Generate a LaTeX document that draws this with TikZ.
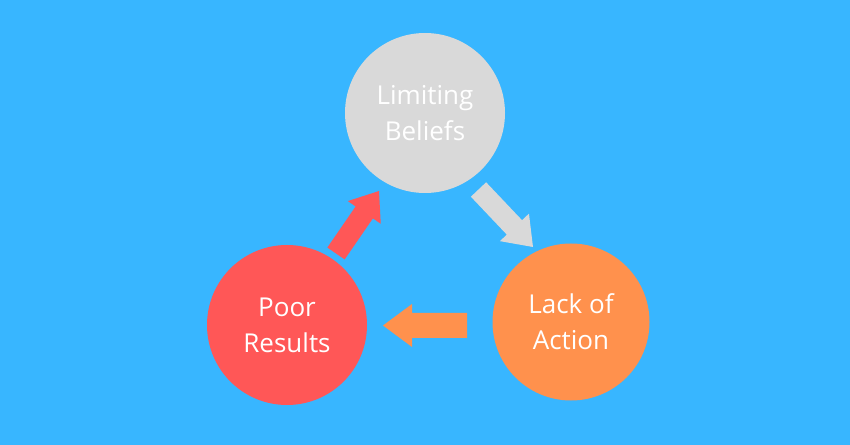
\documentclass[tikz,border=0pt]{standalone}
\usepackage{fontspec}
\setmainfont{Open Sans}
\usetikzlibrary{calc}
\definecolor{bgblue}{HTML}{38B6FF}
\definecolor{greyc}{HTML}{D9D9D9}
\definecolor{redc}{HTML}{FF5757}
\definecolor{orangec}{HTML}{FF914D}
\newcommand{\blockarr}[6]{% tail, tip, shaft half, head half, head length, colour
  \coordinate (hb#1) at ($(#2)!#5!(#1)$);
  \fill[#6] ($(#1)!#3!90:(#2)$) -- ($(hb#1)!#3!-90:(#1)$) -- ($(hb#1)!#4!-90:(#1)$) -- (#2)
    -- ($(hb#1)!#4!90:(#1)$) -- ($(hb#1)!#3!90:(#1)$) -- ($(#1)!#3!-90:(#2)$) -- cycle;}
\tikzset{
  circ/.style={circle, inner sep=0pt, minimum size=#1, text=white, align=center,
    font=\fontsize{26bp}{36bp}\selectfont},
}
\begin{document}
\begin{tikzpicture}[x=1bp, y=-1bp]
\fill[bgblue] (0,0) rectangle (850,445);
\useasboundingbox (0,0) rectangle (850,445);
\node[circ=160bp, fill=greyc] (lb) at (425,113) {Limiting\\Beliefs};
\node[circ=157bp, fill=orangec] (la) at (571,322) {Lack of\\Action};
\node[circ=160bp, fill=redc] (pr) at (287,325) {Poor\\Results};
% arrows
\coordinate (gt) at (478.5,189.5);
\coordinate (gp) at (533,247);
\coordinate (ot) at (467,325.5);
\coordinate (op) at (383,325.5);
\coordinate (rt) at (336,253.5);
\coordinate (rp) at (379,191);
\blockarr{gt}{gp}{10.5bp}{20bp}{27bp}{greyc}
\blockarr{ot}{op}{12.5bp}{21.5bp}{29bp}{orangec}
\blockarr{rt}{rp}{10.5bp}{20bp}{26bp}{redc}
\end{tikzpicture}
\end{document}
